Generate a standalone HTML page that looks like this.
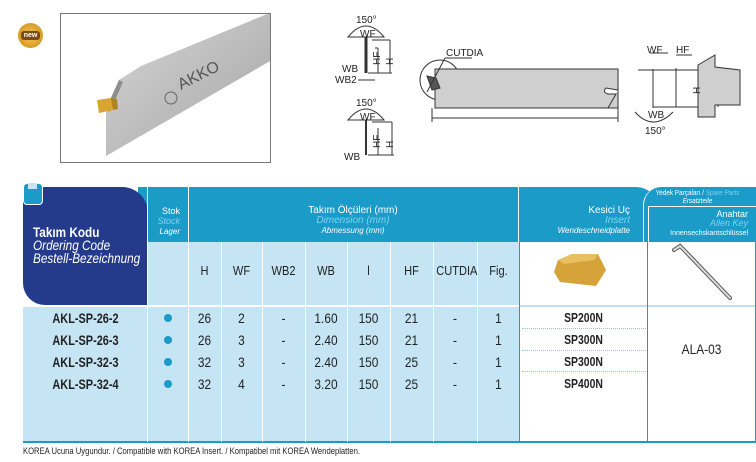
<!DOCTYPE html>
<html><head><meta charset="utf-8"><style>
*{margin:0;padding:0;box-sizing:border-box}
body{width:756px;height:462px;background:#fff;position:relative;overflow:hidden;font-family:"Liberation Sans",sans-serif;}
.a{position:absolute}
.t{position:absolute;text-align:center;font-size:13px;color:#222;transform:scaleX(.85);}
.h{position:absolute;text-align:center;font-size:13px;color:#222;transform:scaleX(.85);top:263px}
</style></head><body>
<div class="a" style="left:60px;top:13px;width:211px;height:150px;border:1px solid #777;overflow:hidden;background:#fff">
<svg width="211" height="150" class="a" style="left:0;top:0">
<defs><linearGradient id="g" x1="0" y1="0" x2="1" y2="1"><stop offset="0" stop-color="#d6d6d6"/><stop offset="1" stop-color="#a4a4a4"/></linearGradient></defs>
<polygon points="58,66 80,52 211,-2 211,46 45,142 45,95" fill="url(#g)"/>
<polygon points="45,95 58,66 62,68 49,98" fill="#8e8e8e"/>
<text x="120" y="76" font-size="16" fill="#555" transform="rotate(-27 120 76)" font-family="Liberation Sans">AKKO</text>
<circle cx="110" cy="84" r="6" fill="none" stroke="#666"/>
<polygon points="36,86 50,84 52,96 38,99" fill="#d8a630"/>
<polygon points="50,84 56,85 57,95 52,96" fill="#b08420"/>
</svg></div>
<div class="a" style="left:18px;top:23px;width:25px;height:25px;border-radius:50%;background:radial-gradient(#f5c84a,#c9881a);"></div>
<div class="a" style="left:21px;top:31px;width:19px;height:9px;background:#7a4a12;border-radius:3px;color:#fff;font-size:7px;text-align:center;line-height:9px;font-weight:bold">new</div>
<svg class="a" style="left:320px;top:10px" width="436" height="165" font-family="Liberation Sans" font-size="10" fill="#222">
<g stroke="#333" fill="none" stroke-width="1">
<path d="M28,27 Q46,5 64,27 Z"/><line x1="46" y1="27" x2="46" y2="63" stroke-width="3"/>
<line x1="52" y1="30" x2="70" y2="30"/><line x1="70" y1="30" x2="70" y2="63"/><line x1="55" y1="38" x2="58" y2="38"/><line x1="58" y1="38" x2="58" y2="63"/><line x1="48" y1="63" x2="72" y2="63"/>
<line x1="38" y1="70" x2="55" y2="70"/>
<path d="M28,110 Q46,88 64,110 Z"/><line x1="46" y1="110" x2="46" y2="145" stroke-width="2"/>
<line x1="52" y1="112" x2="72" y2="112"/><line x1="72" y1="112" x2="72" y2="145"/><line x1="58" y1="118" x2="58" y2="145"/><line x1="48" y1="145" x2="74" y2="145"/>
<circle cx="120" cy="70" r="20"/>
<rect x="115" y="59" width="183" height="39" fill="#cfcfcf"/>
<path d="M298,80 L286,78 Q282,82 288,84 L296,84 L288,98" fill="#fff"/>
<polygon points="107,66 116,68 120,78 112,80" fill="#555"/>
<line x1="112" y1="108" x2="298" y2="108"/><line x1="112" y1="98" x2="112" y2="112"/><line x1="298" y1="98" x2="298" y2="112"/>
<line x1="107" y1="82" x2="125" y2="48"/><line x1="125" y1="48" x2="152" y2="48"/>
<line x1="333" y1="59" x2="333" y2="98"/><line x1="333" y1="60" x2="378" y2="60"/><line x1="333" y1="97" x2="378" y2="97"/>
<line x1="356" y1="58" x2="356" y2="97"/><line x1="398" y1="60" x2="398" y2="97"/>
<polygon points="378,55 395,45 395,57 420,60 420,95 395,95 395,107 378,107" fill="#cfcfcf"/>
<line x1="318" y1="60" x2="338" y2="60"/>
<path d="M315,102 Q333,122 353,102"/>
<line x1="330" y1="43" x2="348" y2="43"/><line x1="356" y1="45" x2="372" y2="45"/>
</g>
<text x="36" y="13">150°</text><text x="40" y="27">WF</text><text x="22" y="62">WB</text><text x="15" y="73">WB2</text>
<text x="60" y="55" transform="rotate(-90 60 55)">HF</text><text x="73" y="55" transform="rotate(-90 73 55)">H</text>
<text x="36" y="96">150°</text><text x="40" y="110">WF</text><text x="24" y="150">WB</text>
<text x="60" y="138" transform="rotate(-90 60 138)">HF</text><text x="73" y="138" transform="rotate(-90 73 138)">H</text>
<text x="126" y="46">CUTDIA</text>
<text x="327" y="43">WF</text><text x="356" y="43">HF</text><text x="328" y="108">WB</text><text x="325" y="124">150°</text>
<text x="380" y="84" transform="rotate(-90 380 84)">H</text>
</svg>
<div class="a" style="left:138px;top:187px;width:70px;height:55px;background:#1a9bc8;border-top-right-radius:22px"></div>
<div class="a" style="left:188px;top:187px;width:350px;height:55px;background:#1a9bc8;border-top-right-radius:22px;border-left:1px solid #fff"></div>
<div class="a" style="left:518px;top:187px;width:140px;height:55px;background:#1a9bc8;border-top-right-radius:22px;border-left:1px solid #fff"></div>
<div class="a" style="left:643px;top:187px;width:113px;height:55px;background:#1a9bc8;border-top-left-radius:18px;border-left:1px solid #fff"></div>
<div class="a" style="left:648px;top:206px;width:108px;height:1px;background:#fff"></div>
<div class="a" style="left:648px;top:206px;width:1px;height:240px;background:#fff"></div>
<div class="a" style="left:23px;top:187px;width:125px;height:118px;background:#243b8b;border-top-right-radius:26px;border-bottom-left-radius:22px"></div>
<div class="a" style="left:23px;top:183px;width:20px;height:22px;background:#1a9bc8;border-radius:4px;border:1px solid #fff"></div>
<div class="a" style="left:28px;top:183px;width:9px;height:6px;background:#c8e4f2"></div>
<div class="a" style="left:33px;top:226px;color:#fff;font-size:14px;line-height:13px;transform:scaleX(.84);transform-origin:left;white-space:nowrap"><b>Takım Kodu</b><br><i>Ordering Code</i><br><i>Bestell-Bezeichnung</i></div>
<div class="a" style="left:138px;top:206px;width:42px;text-align:right;font-size:9px;line-height:10px;color:#fff">Stok<br><i style="color:#7fd3f0">Stock</i><br><i style="font-size:8px">Lager</i></div>
<div class="a" style="left:188px;top:206px;width:330px;text-align:center;font-size:10px;line-height:10px;color:#fff">Takım Ölçüleri (mm)<br><i style="color:#7fd3f0">Dimension (mm)</i><br><i style="font-size:8px">Abmessung (mm)</i></div>
<div class="a" style="left:520px;top:206px;width:110px;text-align:right;font-size:10px;line-height:10px;color:#fff">Kesici Uç<br><i style="color:#7fd3f0">Insert</i><br><i style="font-size:8px">Wendeschneidplatte</i></div>
<div class="a" style="left:640px;top:189px;width:115px;text-align:center;font-size:7.5px;line-height:8px;color:#fff;white-space:nowrap;transform:scaleX(.85)">Yedek Parçaları / <i style="color:#7fd3f0">Spare Parts</i><br><i>Ersatzteile</i></div>
<div class="a" style="left:650px;top:210px;width:98px;text-align:right;font-size:9px;line-height:9px;color:#fff">Anahtar<br><i style="color:#7fd3f0">Allen Key</i><br><span style="font-size:7px">Innensechskantschlüssel</span></div>
<div class="a" style="left:23px;top:305px;width:497px;height:137px;background:#c6e5f4"></div>
<div class="a" style="left:148px;top:242px;width:372px;height:64px;background:#c6e5f4"></div>
<div class="a" style="left:23px;top:305px;width:733px;height:2px;background:#fff"></div>
<div class="a" style="left:520px;top:305px;width:236px;height:2px;background:#bfe0f0"></div>
<div class="a" style="left:23px;top:441px;width:733px;height:2px;background:#1a9bc8"></div>
<div class="a" style="left:519px;top:242px;width:1px;height:200px;background:#1a9bc8"></div>
<div class="a" style="left:755px;top:242px;width:1px;height:200px;background:#1a9bc8"></div>
<div class="a" style="left:647px;top:242px;width:1px;height:200px;background:#1a9bc8"></div>
<div class="a" style="left:147px;top:187px;width:1px;height:255px;background:#fff"></div>
<div class="a" style="left:188px;top:242px;width:1px;height:200px;background:#fff"></div>
<div class="a" style="left:221px;top:242px;width:1px;height:200px;background:#fff"></div>
<div class="a" style="left:262px;top:242px;width:1px;height:200px;background:#fff"></div>
<div class="a" style="left:305px;top:242px;width:1px;height:200px;background:#fff"></div>
<div class="a" style="left:347px;top:242px;width:1px;height:200px;background:#fff"></div>
<div class="a" style="left:390px;top:242px;width:1px;height:200px;background:#fff"></div>
<div class="a" style="left:433px;top:242px;width:1px;height:200px;background:#fff"></div>
<div class="a" style="left:477px;top:242px;width:1px;height:200px;background:#fff"></div>
<div class="h" style="left:188px;width:33px">H</div>
<div class="h" style="left:221px;width:41px">WF</div>
<div class="h" style="left:262px;width:43px">WB2</div>
<div class="h" style="left:305px;width:42px">WB</div>
<div class="h" style="left:347px;width:43px">l</div>
<div class="h" style="left:390px;width:43px">HF</div>
<div class="h" style="left:433px;width:44px">CUTDIA</div>
<div class="h" style="left:477px;width:43px">Fig.</div>
<svg class="a" style="left:550px;top:250px" width="80" height="50"><polygon points="8,10 22,4 48,4 56,20 46,36 10,32 4,22" fill="#d6a33a"/><polygon points="8,10 22,4 48,4 44,10 14,14" fill="#e8c060"/></svg>
<svg class="a" style="left:660px;top:240px" width="90" height="66"><path d="M14,10 L20,6 L24,10 L70,58" stroke="#555" stroke-width="4" fill="none" stroke-linecap="round"/><path d="M14,10 L20,6 L24,10 L70,58" stroke="#ddd" stroke-width="2" fill="none" stroke-linecap="round"/></svg>
<div class="a" style="left:522px;top:328px;width:124px;border-top:1px dotted #8cc8e2"></div>
<div class="a" style="left:522px;top:350px;width:124px;border-top:1px dotted #8cc8e2"></div>
<div class="a" style="left:522px;top:371px;width:124px;border-top:1px dotted #8cc8e2"></div>
<div class="t" style="left:23px;top:307px;width:125px;font-weight:bold;font-size:14px;line-height:22px;transform:scaleX(.78)">AKL-SP-26-2<br>AKL-SP-26-3<br>AKL-SP-32-3<br>AKL-SP-32-4</div>
<div class="a" style="left:164px;top:314px;width:8px;height:8px;border-radius:50%;background:#1a9bc8"></div>
<div class="a" style="left:164px;top:336px;width:8px;height:8px;border-radius:50%;background:#1a9bc8"></div>
<div class="a" style="left:164px;top:358px;width:8px;height:8px;border-radius:50%;background:#1a9bc8"></div>
<div class="a" style="left:164px;top:380px;width:8px;height:8px;border-radius:50%;background:#1a9bc8"></div>
<div class="t" style="left:188px;top:307px;width:33px;line-height:22px;font-size:14px">26<br>26<br>32<br>32</div>
<div class="t" style="left:221px;top:307px;width:41px;line-height:22px;font-size:14px">2<br>3<br>3<br>4</div>
<div class="t" style="left:262px;top:307px;width:43px;line-height:22px;font-size:14px">-<br>-<br>-<br>-</div>
<div class="t" style="left:305px;top:307px;width:42px;line-height:22px;font-size:14px">1.60<br>2.40<br>2.40<br>3.20</div>
<div class="t" style="left:347px;top:307px;width:43px;line-height:22px;font-size:14px">150<br>150<br>150<br>150</div>
<div class="t" style="left:390px;top:307px;width:43px;line-height:22px;font-size:14px">21<br>21<br>25<br>25</div>
<div class="t" style="left:433px;top:307px;width:44px;line-height:22px;font-size:14px">-<br>-<br>-<br>-</div>
<div class="t" style="left:477px;top:307px;width:43px;line-height:22px;font-size:14px">1<br>1<br>1<br>1</div>
<div class="t" style="left:520px;top:307px;width:127px;line-height:22px;font-size:13px;font-weight:bold;transform:scaleX(.8)">SP200N<br>SP300N<br>SP300N<br>SP400N</div>
<div class="t" style="left:648px;top:341px;width:107px;font-size:14px">ALA-03</div>
<div class="a" style="left:23px;top:446px;font-size:9px;color:#222;transform:scaleX(.85);transform-origin:left;white-space:nowrap">KOREA Ucuna Uygundur. / Compatible with KOREA Insert. / Kompatibel mit KOREA Wendeplatten.</div>
</body></html>
